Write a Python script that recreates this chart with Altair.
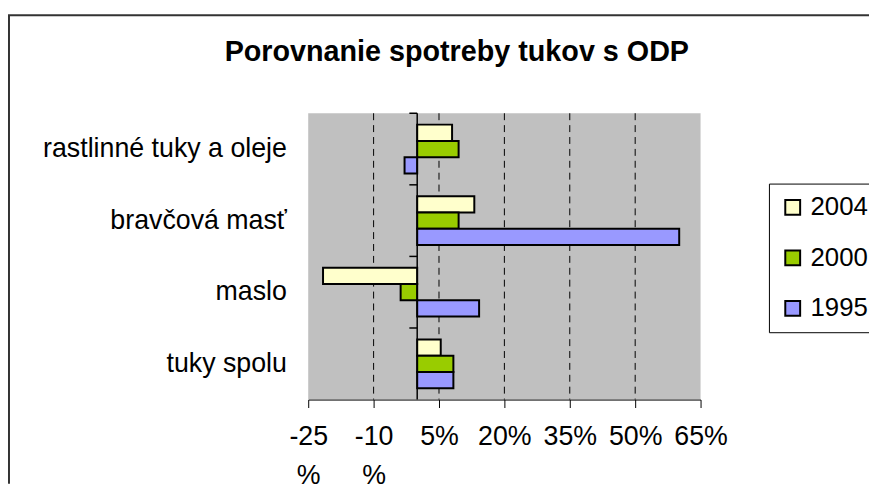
import altair as alt
import pandas as pd

categories = ["rastlinné tuky a oleje", "bravčová masť", "maslo", "tuky spolu"]
years = ["2004", "2000", "1995"]
values_2004 = [8.0, 13.1, -21.6, 5.4]
values_2000 = [9.5, 9.5, -3.8, 8.3]
values_1995 = [-2.9, 60.1, 14.2, 8.3]
x_ticks = [-25, -10, 5, 20, 35, 50, 65]
grid_values = [-10, 5, 20, 35, 50]
colors = ["#FFFFCC", "#99CC00", "#9999FF"]

rows = []
for yr, vals in zip(years, [values_2004, values_2000, values_1995]):
    for c, v in zip(categories, vals):
        rows.append({"kategoria": c, "rok": yr, "hodnota": v})
df = pd.DataFrame(rows)

FONT = "Liberation Sans"
W, H = 396, 289
PAD_L, PAD_T = 303, 104
TOTAL_W, TOTAL_H = 869, 478

x_scale = alt.Scale(domain=[-25, 65], nice=False)
y_scale = alt.Scale(domain=categories, paddingInner=0, paddingOuter=0)

grid = alt.Chart(pd.DataFrame({"hodnota": grid_values})).mark_rule(
    color="black", strokeWidth=1, strokeDash=[7, 5]
).encode(x=alt.X("hodnota:Q", scale=x_scale))

bars = alt.Chart(df).mark_bar(stroke="black", strokeWidth=2).encode(
    x=alt.X(
        "hodnota:Q",
        scale=x_scale,
        axis=alt.Axis(
            values=x_ticks, title=None, grid=False, tickSize=8, tickColor="black",
            domainColor="black", labelFont=FONT, labelFontSize=27, labelColor="black",
            labelPadding=16, labelLineHeight=40, labelFlush=False, labelOverlap=False,
            labelExpr="datum.value < 0 ? ['' + datum.value, '%'] : datum.value + '%'",
        ),
    ),
    y=alt.Y(
        "kategoria:N", scale=y_scale, sort=categories,
        axis=alt.Axis(title=None, ticks=False, domain=False, labelFont=FONT,
                      labelFontSize=27, labelColor="black", labelPadding=22, labelLimit=400),
    ),
    yOffset=alt.YOffset("rok:N", sort=years, scale=alt.Scale(paddingOuter=0.7, paddingInner=0)),
    fill=alt.Fill(
        "rok:N", sort=years, scale=alt.Scale(domain=years, range=colors),
        legend=alt.Legend(
            title=None, orient="none", legendX=465, legendY=71, symbolType="square",
            symbolSize=225, symbolStrokeColor="black", symbolStrokeWidth=2,
            labelFont=FONT, labelFontSize=26, labelColor="black", labelOffset=5,
            rowPadding=25, padding=11, strokeColor="black", fillColor="white",
        ),
    ),
)

zero_line = alt.Chart(pd.DataFrame({"a": [0]})).mark_rule(color="black", strokeWidth=1.5).encode(
    x=alt.datum(0)
)

yticks = alt.Chart(pd.DataFrame({"kategoria": categories})).mark_rule(color="black", strokeWidth=1.5).encode(
    y=alt.Y("kategoria:N", bandPosition=0, scale=y_scale, sort=categories),
    x=alt.datum(-1.8),
    x2=alt.datum(0),
)

frame_df = pd.DataFrame({"a": [0]})
frame_left = alt.Chart(frame_df).mark_rule(color="#333333", strokeWidth=2).encode(
    x=alt.value(-302), y=alt.value(-99), y2=alt.value(TOTAL_H - PAD_T)
)
frame_top = alt.Chart(frame_df).mark_rule(color="#333333", strokeWidth=2).encode(
    y=alt.value(-99), x=alt.value(-303), x2=alt.value(TOTAL_W - PAD_L)
)

chart = alt.layer(grid, bars, zero_line, yticks, frame_left, frame_top).properties(
    width=W,
    height=H,
    autosize=alt.AutoSizeParams(type="none"),
    padding={"left": PAD_L, "top": PAD_T, "right": TOTAL_W - PAD_L - W, "bottom": TOTAL_H - PAD_T - H},
    background="white",
    title=alt.TitleParams(
        text="Porovnanie spotreby tukov s ODP", font=FONT, fontSize=29, fontWeight="bold",
        color="black", anchor="middle", dx=-48, dy=57,
    ),
).configure_view(fill="#C0C0C0", strokeWidth=0)

chart.save("out.html", embed_options={"renderer": "svg", "actions": False})
